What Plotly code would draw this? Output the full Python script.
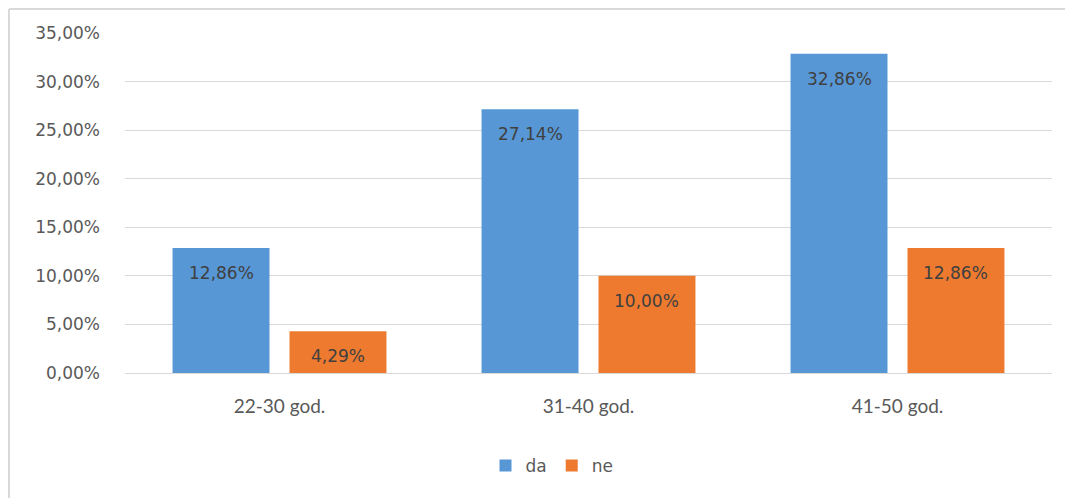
import plotly.graph_objects as go

categories = ["22-30 god.", "31-40 god.", "41-50 god."]
series_names = ["da", "ne"]
da_values = [12.86, 27.14, 32.86]
ne_values = [4.29, 10.00, 12.86]
y_ticks = [0, 5, 10, 15, 20, 25, 30, 35]
y_tick_labels = [f"{v:.2f}".replace(".", ",") + "%" for v in y_ticks]

# page has an 8px body margin; figure is laid out in page coords minus 8
OFF = 8
W, H = 1073 - OFF, 498 - OFF
ML, MT = 125 - OFF, 33 - OFF
PW, PH = 927, 340
MR, MB = W - ML - PW, H - MT - PH

blue = "#5797d5"
orange = "#ee7a2f"
tick_font = dict(family="DejaVu Sans", size=17, color="#595959")

fig = go.Figure()
fig.add_trace(go.Bar(x=categories, y=da_values, name=series_names[0],
                     marker=dict(color=blue, line=dict(width=0))))
fig.add_trace(go.Bar(x=categories, y=ne_values, name=series_names[1],
                     marker=dict(color=orange, line=dict(width=0))))

bargap = 0.243
bargroupgap = 0.171
slot = PW / len(categories) * (1 - bargap) / 2
annotations = []
for vals, shift in ((da_values, -slot / 2), (ne_values, slot / 2)):
    for c, v in zip(categories, vals):
        annotations.append(dict(
            x=c, y=v, xref="x", yref="y", xshift=shift, yshift=-25,
            text=f"{v:.2f}".replace(".", ",") + "%", showarrow=False,
            yanchor="middle", xanchor="center",
            font=dict(family="DejaVu Sans", size=17, color="#404040")))

# outer frame (top and left edges)
x_left = (1 - ML) / PW
y_top = 1 + (MT - 1) / PH
y_bottom = -(MB) / PH
shapes = [
    dict(type="line", xref="paper", yref="paper", x0=x_left, x1=(W - ML) / PW,
         y0=y_top, y1=y_top, line=dict(color="#d9d9d9", width=2)),
    dict(type="line", xref="paper", yref="paper", x0=x_left, x1=x_left,
         y0=y_top, y1=y_bottom, line=dict(color="#d9d9d9", width=2)),
]

fig.update_layout(
    width=W, height=H,
    margin=dict(l=ML, r=MR, t=MT, b=MB),
    paper_bgcolor="white", plot_bgcolor="white",
    barmode="group", bargap=bargap, bargroupgap=bargroupgap,
    showlegend=True,
    legend=dict(orientation="h", x=(552 - OFF - ML) / PW, xanchor="center",
                y=-(466 - OFF - MT - PH) / PH, yanchor="middle",
                font=dict(family="DejaVu Sans", size=17, color="#595959"),
                itemwidth=30),
    annotations=annotations,
    shapes=shapes,
    xaxis=dict(showgrid=False, showline=False, ticks="",
               tickfont=dict(family="Lato", size=19, color="#595959"),
               ticklabelstandoff=20),
    yaxis=dict(range=[0, 35], tickmode="array", tickvals=y_ticks,
               ticktext=y_tick_labels,
               showgrid=True, gridcolor="#d9d9d9", gridwidth=1,
               zeroline=True, zerolinecolor="#d9d9d9", zerolinewidth=1,
               showline=False, ticks="", tickfont=tick_font,
               ticklabelstandoff=24),
)

fig.write_html("out.html")
